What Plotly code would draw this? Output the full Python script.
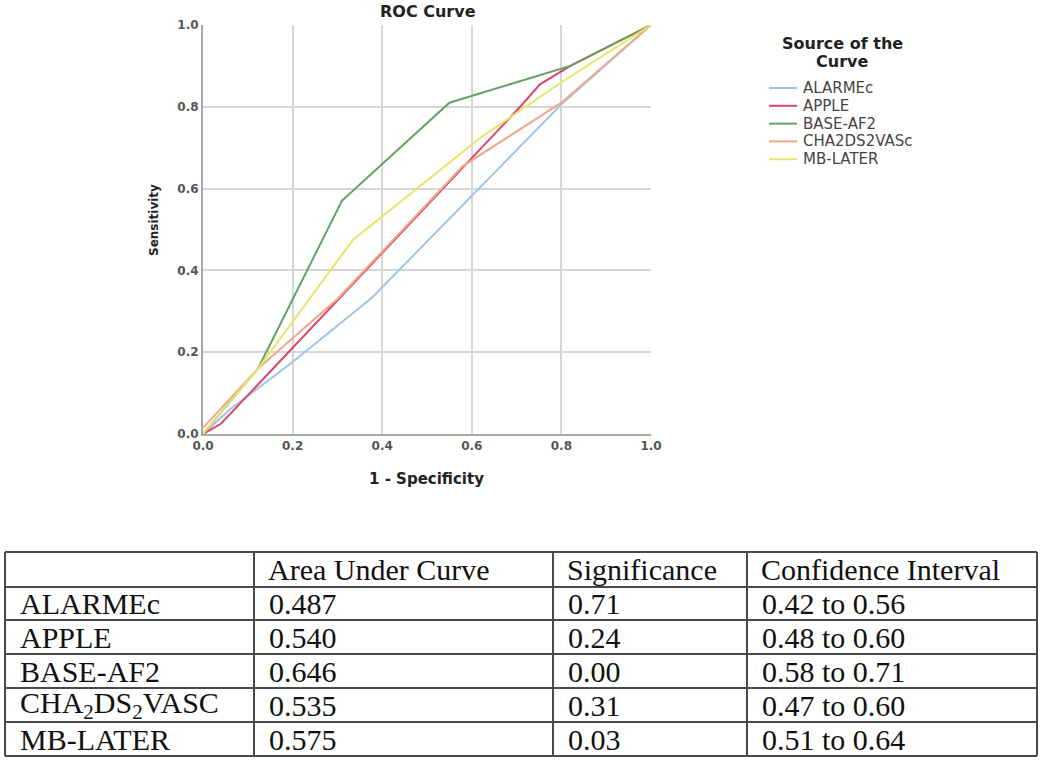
import plotly.graph_objects as go

W, H = 1050, 763

# ---------------- data ----------------
series_names = ["ALARMEc", "APPLE", "BASE-AF2", "CHA2DS2VASc", "MB-LATER"]
series_colors = ["#9fc4e6", "#d9466a", "#62a262", "#f3a58a", "#e6e66a"]

alarmec_x = [0, 0.06, 0.2, 0.377, 0.8, 1]
alarmec_y = [0, 0.06, 0.176, 0.333, 0.806, 1]
apple_x = [0, 0.04, 0.708, 0.752, 0.82, 1]
apple_y = [0, 0.025, 0.80, 0.855, 0.90, 1]
baseaf2_x = [0, 0.123, 0.31, 0.55, 0.82, 1]
baseaf2_y = [0, 0.16, 0.57, 0.81, 0.90, 1]
cha_x = [0, 0.123, 0.3, 0.58, 0.8, 1]
cha_y = [0.015, 0.16, 0.33, 0.655, 0.81, 1]
mblater_x = [0, 0.123, 0.335, 0.62, 0.8, 1]
mblater_y = [0, 0.16, 0.475, 0.725, 0.86, 1]

series_x = [alarmec_x, apple_x, baseaf2_x, cha_x, mblater_x]
series_y = [alarmec_y, apple_y, baseaf2_y, cha_y, mblater_y]

tick_vals = [0, 0.2, 0.4, 0.6, 0.8, 1.0]
tick_text = ["0.0", "0.2", "0.4", "0.6", "0.8", "1.0"]

table_header = ["", "Area Under Curve", "Significance", "Confidence Interval"]
table_rows = ["ALARMEc", "APPLE", "BASE-AF2", "CHA<sub>2</sub>DS<sub>2</sub>VASC", "MB-LATER"]
table_auc = ["0.487", "0.540", "0.646", "0.535", "0.575"]
table_sig = ["0.71", "0.24", "0.00", "0.31", "0.03"]
table_ci = ["0.42 to 0.56", "0.48 to 0.60", "0.58 to 0.71", "0.47 to 0.60", "0.51 to 0.64"]

# ---------------- layout geometry (pixels) ----------------
PX_L, PX_R, PX_T, PX_B = 203, 651, 25, 434
col_edges = [5, 254, 553, 747, 1037]
row_edges = [552, 587, 620, 654, 688, 722, 756]


def px(x):
    return x / W


def py(y):
    return 1 - y / H


fig = go.Figure()
for name, color, xs, ys in zip(series_names, series_colors, series_x, series_y):
    fig.add_trace(go.Scatter(x=xs, y=ys, mode="lines", name=name,
                             line=dict(color=color, width=2), showlegend=False))

axis_common = dict(range=[0, 1], tickvals=tick_vals, ticktext=tick_text,
                   showgrid=True, gridcolor="#d6d6d6", gridwidth=2,
                   zeroline=False, showline=True, linecolor="#a8a8a8", linewidth=2,
                   ticks="", automargin=False,
                   tickfont=dict(family="DejaVu Sans", size=12, color="#555555",
                                 weight="bold"),
                   fixedrange=True)

fig.update_layout(
    width=W, height=H, autosize=False,
    margin=dict(l=0, r=0, t=0, b=0, pad=0, autoexpand=False),
    paper_bgcolor="white", plot_bgcolor="white",
    xaxis=dict(domain=[px(PX_L), px(PX_R)], **axis_common),
    yaxis=dict(domain=[py(PX_B), py(PX_T)], **axis_common),
    showlegend=False,
)

ann = []
shapes = []


def centered(text, x, y, size, **kw):
    return dict(text=text, x=px(x), y=py(y), xref="paper", yref="paper",
                xanchor="center", yanchor="middle", showarrow=False,
                font=dict(family="DejaVu Sans", size=size, color="#222"), **kw)


# titles
ann.append(centered("<b>ROC Curve</b>", 428, 12, 16))
ann.append(centered("<b>1 - Specificity</b>", 426, 479, 15))
ann.append(centered("<b>Sensitivity</b>", 154, 220, 12, textangle=-90))

# legend (manual)
ann.append(centered("<b>Source of the</b>", 842, 43, 16))
ann.append(centered("<b>Curve</b>", 842, 61, 16))
leg_y0, leg_dy = 88, 17.8
for i, (name, color) in enumerate(zip(series_names, series_colors)):
    yy = leg_y0 + i * leg_dy
    shapes.append(dict(type="line", xref="paper", yref="paper",
                       x0=px(769), x1=px(797), y0=py(yy), y1=py(yy),
                       line=dict(color=color, width=2)))
    ann.append(dict(text=name, x=px(801), y=py(yy), xref="paper", yref="paper",
                    xanchor="left", yanchor="middle", showarrow=False,
                    font=dict(family="DejaVu Sans", size=15, color="#444")))

# table lines
for ry in row_edges:
    shapes.append(dict(type="line", xref="paper", yref="paper",
                       x0=px(col_edges[0]), x1=px(col_edges[-1]), y0=py(ry), y1=py(ry),
                       line=dict(color="#4a4a4a", width=2)))
for cx in col_edges:
    shapes.append(dict(type="line", xref="paper", yref="paper",
                       x0=px(cx), x1=px(cx), y0=py(row_edges[0]), y1=py(row_edges[-1]),
                       line=dict(color="#4a4a4a", width=2)))

# table text
table_cols = [table_rows, table_auc, table_sig, table_ci]
tfont = dict(family="Liberation Serif", size=30, color="#111")
for c, htxt in enumerate(table_header):
    if htxt:
        ann.append(dict(text=htxt, x=px(col_edges[c] + 12), y=py((row_edges[0] + row_edges[1]) / 2),
                        xref="paper", yref="paper", xanchor="left", yanchor="middle",
                        showarrow=False, font=tfont))
for c, col in enumerate(table_cols):
    for r, txt in enumerate(col):
        yc = (row_edges[r + 1] + row_edges[r + 2]) / 2
        ann.append(dict(text=txt, x=px(col_edges[c] + 13), y=py(yc),
                        xref="paper", yref="paper", xanchor="left", yanchor="middle",
                        showarrow=False, font=tfont))

fig.update_layout(annotations=ann, shapes=shapes)
fig.write_html("out.html",
               config={"displayModeBar": False},
               post_script="document.body.style.margin='0px';"
                           "document.body.style.overflow='hidden';")
